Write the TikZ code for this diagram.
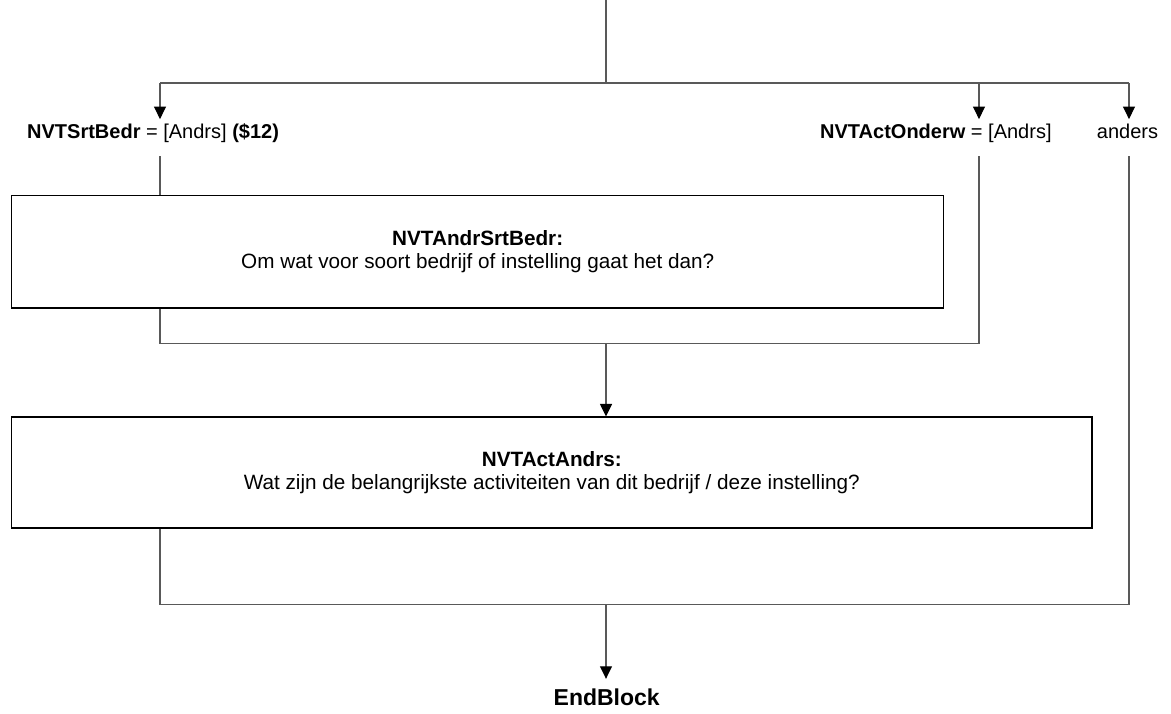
\documentclass[tikz,border=0pt]{standalone}
\usepackage{fontspec}
\setmainfont{Liberation Sans}
\usetikzlibrary{arrows.meta,calc}
\begin{document}
\begin{tikzpicture}[x=1pt,y=1pt,
  conn/.style={draw=black!65, line width=1.1pt},
  arr/.style={conn, -{Triangle[length=12.5pt,width=12pt,color=black]}},
  lbl/.style={inner sep=0pt, text height=19pt, text depth=17.7pt, font=\fontsize{20}{24}\selectfont},
  qbox/.style={draw=black, line width=1.1pt, align=center, inner sep=0pt, font=\fontsize{20.7}{22.8}\selectfont},
  endlbl/.style={inner sep=0pt, text height=26.7pt, text depth=5pt, font=\fontsize{23}{26}\selectfont\bfseries}
]
\useasboundingbox (0,0) rectangle (1171,-714);

\coordinate (top) at (606,0);
\coordinate (split) at (606,-83);
\coordinate (s1) at (160,-83);
\coordinate (s2) at (979,-83);
\coordinate (s3) at (1129,-83);
\coordinate (j1) at (606,-343.7);
\coordinate (j2) at (606,-604.3);

\node[lbl, anchor=base west] (l1) at (27,-138.3) {\textbf{NVTSrtBedr} = [Andrs] \textbf{(\$12)}};
\node[lbl, anchor=base west] (l2) at (820,-138.3) {\textbf{NVTActOnderw} = [Andrs]};
\node[lbl, anchor=base] (l3) at (1127.5,-138.3) {anders};

\node[qbox, minimum width=932pt, minimum height=112.3pt] (box1) at (477.7,-251.85)
  {\textbf{NVTAndrSrtBedr:}\\Om wat voor soort bedrijf of instelling gaat het dan?};
\node[qbox, minimum width=1080.3pt, minimum height=111pt] (box2) at (551.85,-472.5)
  {\textbf{NVTActAndrs:}\\Wat zijn de belangrijkste activiteiten van dit bedrijf / deze instelling?};

\node[endlbl, anchor=base] (end) at (606.7,-705.7) {EndBlock};

\draw[conn] (top) -- (split);
\draw[conn] (s1) -- (s3);
\draw[arr] (s1) -- (l1.north -| s1);
\draw[arr] (s2) -- (l2.north -| s2);
\draw[arr] (s3) -- (l3.north -| s3);

\draw[conn] (l1.south -| s1) -- (box1.north -| s1);
\draw[conn] (box1.south -| s1) |- (j1) -| (l2.south -| s2);
\draw[arr] (j1) -- (box2.north -| j1);

\draw[conn] (box2.south -| s1) |- (j2) -| (l3.south -| s3);
\draw[arr] (j2) -- (end.north -| j2);
\end{tikzpicture}
\end{document}
